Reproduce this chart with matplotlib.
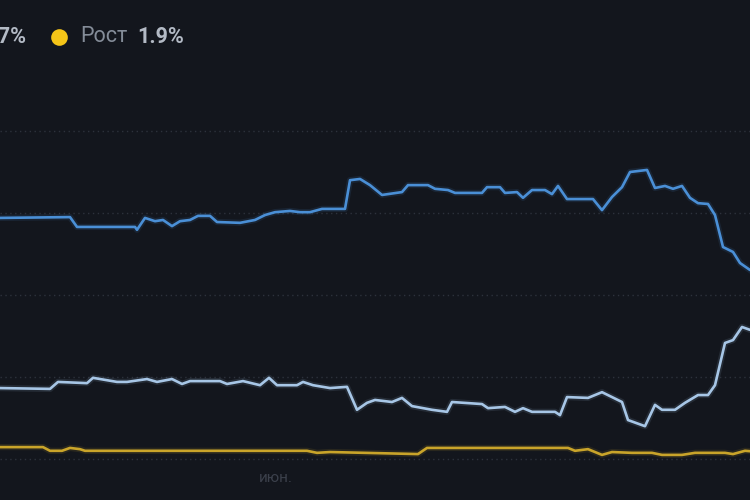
import numpy as np
import matplotlib
matplotlib.use('Agg')
import matplotlib.pyplot as plt
from matplotlib.lines import Line2D

# days from start of the visible window, share in %
days_1 = [0, 14, 15.4, 27, 27.4, 29, 31, 32.6, 34.4, 36, 38, 39.6, 42, 43.4, 48, 51, 53, 55, 58, 60,
          62, 64.4, 69, 70, 72, 74, 76.4, 80.4, 81.6, 85.6, 87, 89.6, 91, 96.4, 97.4, 100, 101, 103.4,
          104.6, 106.4, 109, 110.4, 111.6, 113.4, 118.6, 120.4, 122.4, 124.4, 126, 129.4, 131, 133,
          134.6, 136.4, 138, 139.6, 141.6, 143, 144.6, 146.6, 148, 150]
vals_1 = [58.8, 59.0, 56.6, 56.6, 55.9, 58.8, 58.0, 58.3, 56.8, 58.0, 58.3, 59.3, 59.3, 57.8, 57.6, 58.3,
          59.5, 60.2, 60.5, 60.2, 60.2, 61.0, 61.0, 68.0, 68.3, 66.8, 64.4, 65.1, 66.8, 66.8, 65.9, 65.6,
          64.9, 64.9, 66.3, 66.3, 64.9, 65.1, 63.7, 65.6, 65.6, 64.6, 66.6, 63.4, 63.4, 60.7, 63.9, 66.3,
          70.0, 70.5, 66.1, 66.6, 65.9, 66.6, 63.7, 62.4, 62.2, 59.5, 51.7, 50.5, 47.8, 46.1]

days_2 = [0, 10, 11.6, 17.4, 18.6, 23.4, 25.4, 29.4, 31.4, 34.4, 36.4, 38, 44, 45.4, 48.6, 52, 53.8,
          55.4, 59.4, 60.6, 62.6, 66, 69.4, 71.4, 73.4, 75, 78.4, 80.4, 82.4, 86.4, 89.4, 90.4, 96.4,
          97.6, 101, 103, 104.6, 106.4, 111, 112, 113.4, 117.6, 120.4, 124.4, 125.6, 129, 131, 132.4,
          135, 137, 139.6, 141.6, 143, 145, 146.6, 148.4, 150]
vals_2 = [17.3, 17.1, 18.8, 18.5, 19.8, 18.8, 18.8, 19.5, 18.8, 19.5, 18.3, 19.0, 19.0, 18.3, 19.0, 18.0,
          19.8, 18.0, 18.0, 18.8, 18.0, 17.3, 17.6, 12.0, 13.7, 14.4, 13.9, 14.9, 12.9, 12.0, 11.5, 13.9,
          13.4, 12.4, 12.7, 11.5, 12.4, 11.5, 11.5, 10.7, 15.1, 14.9, 16.3, 13.9, 9.5, 8.0, 13.2, 12.0,
          12.0, 13.7, 15.6, 15.6, 18.0, 28.3, 29.0, 32.2, 31.5]

days_3 = [0, 8.6, 10, 12.4, 14, 16, 17, 61.4, 63.4, 66, 83.6, 85.4, 113.6, 115, 117.6, 120.4, 122.4,
          126.4, 130.4, 132.4, 136.4, 139, 145, 146.6, 149, 150]
vals_3 = [2.9, 2.9, 2.0, 2.0, 2.7, 2.4, 2.0, 2.0, 1.5, 1.7, 1.2, 2.7, 2.7, 2.0, 2.4, 1.0, 1.7,
          1.5, 1.5, 1.0, 1.0, 1.5, 1.5, 1.2, 2.0, 1.9]

grid_vals = [0, 20, 40, 60, 80]
tick_day = [55.2]
tick_lbl = ['июн.']

bg = '#13161d'
plt.rcParams['font.family'] = ['Roboto', 'DejaVu Sans']

fig = plt.figure(figsize=(7.5, 5), dpi=100, facecolor=bg)
ax = fig.add_axes([0, 0, 1, 1], facecolor=bg)

for y in grid_vals:
    ax.axhline(y, color='#2d323c', lw=1.0, ls=(0, (1, 2.5)), zorder=1)

series = [(days_1, vals_1, '#4a8fd6'), (days_2, vals_2, '#a7c6e6'), (days_3, vals_3, '#c9a42a')]
for d, v, c in series:
    ax.plot(d, v, color=c, lw=4.5, alpha=0.12, solid_joinstyle='round', zorder=2)
    ax.plot(d, v, color=c, lw=1.9, solid_joinstyle='round', solid_capstyle='round', zorder=3)

ax.set_xlim(0, 150)
ax.set_ylim(-10, 111.95)
ax.set_xticks([])
ax.set_yticks([])
for s in ax.spines.values():
    s.set_visible(False)

for d, lbl in zip(tick_day, tick_lbl):
    ax.text(d, -4.6, lbl, color='#3b404b', fontsize=11, ha='center', va='center')

# legend row at top
ly = 1 - 37 / 500
fig.text(26 / 750, ly, '31.7%', color='#b3bac5', fontsize=15.5, fontweight='bold',
         ha='right', va='center')
fig.lines.append(Line2D([59 / 750], [ly], transform=fig.transFigure, marker='o', markersize=12,
                        markerfacecolor='#f5c518', markeredgecolor='none', linestyle='none'))
fig.text(80 / 750, ly, 'Рост', color='#848c98', fontsize=15.5, ha='left', va='center')
fig.text(137 / 750, ly, '1.9%', color='#b3bac5', fontsize=15.5, fontweight='bold',
         ha='left', va='center')

fig.savefig('out.png', dpi=100, facecolor=bg)
